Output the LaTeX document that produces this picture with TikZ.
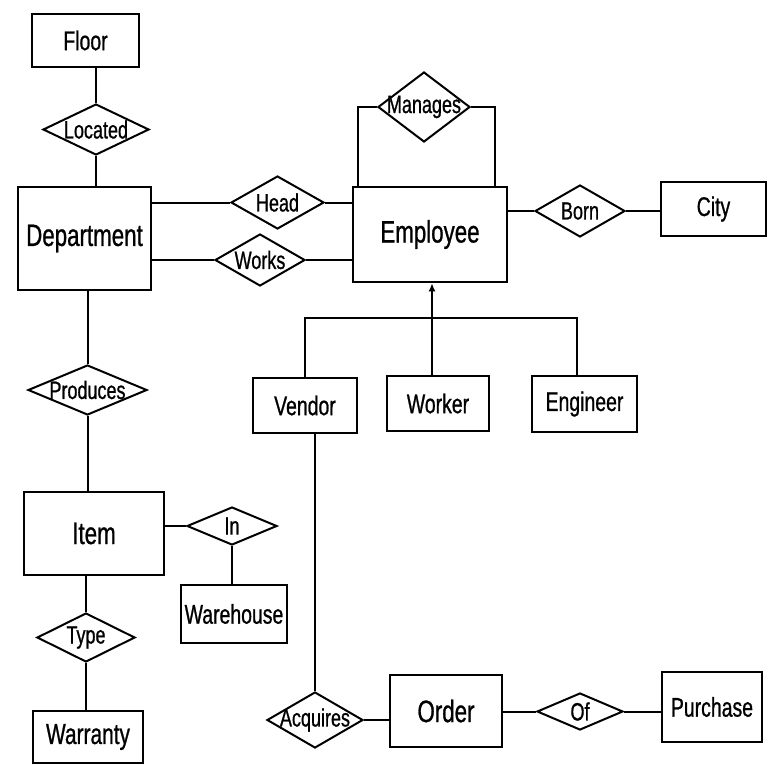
\documentclass[tikz,border=0pt]{standalone}
\usepackage{fontspec}
\setmainfont{Liberation Sans}[FakeStretch=0.72, FakeBold=0.8]
\usetikzlibrary{shapes.geometric,arrows.meta}

\tikzset{
  entity/.style={draw, line width=2.6pt, rectangle, inner sep=0pt,
    font=\fontsize{27}{30}\selectfont},
  bigentity/.style={entity, font=\fontsize{31}{34}\selectfont},
  relation/.style={draw, line width=2pt, diamond, inner sep=0pt,
    label={[font=\fontsize{25}{28}\selectfont, inner sep=0pt]center:#1}},
  link/.style={line width=2pt},
}

\begin{document}
\begin{tikzpicture}[x=1pt,y=-1pt]
\useasboundingbox (0,0) rectangle (780,764);

% entities
\node[entity, minimum width=107, minimum height=53] (floor) at (85.5,40.5) {Floor};
\node[bigentity, minimum width=133, minimum height=103] (dept) at (84.5,238.5) {Department};
\node[bigentity, minimum width=154, minimum height=95] (emp) at (430,234.5) {Employee};
\node[entity, minimum width=105, minimum height=54] (city) at (713.5,209) {City};
\node[entity, minimum width=104, minimum height=55] (vendor) at (305,405.5) {Vendor};
\node[entity, minimum width=102, minimum height=55] (worker) at (438,403.5) {Worker};
\node[entity, minimum width=105, minimum height=56] (engineer) at (584.5,404) {Engineer};
\node[bigentity, minimum width=140, minimum height=83] (item) at (94,533.5) {Item};
\node[entity, minimum width=106, minimum height=58] (warehouse) at (234,614) {Warehouse};
\node[entity, font=\fontsize{29}{32}\selectfont, minimum width=110, minimum height=52] (warranty) at (88,737) {Warranty};
\node[bigentity, minimum width=112, minimum height=72] (order) at (446,711) {Order};
\node[entity, minimum width=100, minimum height=70] (purchase) at (712,707) {Purchase};

% relationships
\node[relation=Located, minimum width=106, minimum height=51] (located) at (96,129.5) {};
\node[relation=Manages, minimum width=92, minimum height=70] (manages) at (424,107) {};
\node[relation=Head, minimum width=93, minimum height=53] (head) at (277.5,202.5) {};
\node[relation=Works, minimum width=90, minimum height=52] (works) at (260,260) {};
\node[relation=Born, minimum width=90, minimum height=52] (born) at (580,211) {};
\node[relation=Produces, minimum width=119, minimum height=50] (produces) at (87.5,390) {};
\node[relation=In, minimum width=90, minimum height=38] (in) at (232,526) {};
\node[relation=Type, minimum width=98, minimum height=49] (type) at (86,637.5) {};
\node[relation=Acquires, minimum width=96, minimum height=56] (acquires) at (315,720) {};
\node[relation=Of, minimum width=86, minimum height=37] (of) at (580,711.5) {};

% connectors
\draw[link] (located.north) -- (located.north |- floor.south);
\draw[link] (located.south) -- (located.south |- dept.north);
\draw[link] (head.west) -- (head.west -| dept.east);
\draw[link] (head.east) -- (head.east -| emp.west);
\draw[link] (works.west) -- (works.west -| dept.east);
\draw[link] (works.east) -- (works.east -| emp.west);
\draw[link] (manages.west) -| ([xshift=-72pt]emp.north);
\draw[link] (manages.east) -| ([xshift=65pt]emp.north);
\draw[link] (born.west) -- (born.west -| emp.east);
\draw[link] (born.east) -- (born.east -| city.west);

% specialisation of Employee
\coordinate (isa) at (432,318);
\draw[link, -{Latex[length=8pt,width=7pt]}] (isa) -- (isa |- emp.south);
\draw[link] (vendor.north) |- (isa);
\draw[link] (isa) -- ([xshift=-8pt]engineer.north |- isa) -- ([xshift=-8pt]engineer.north);
\draw[link] (isa) -- (isa |- worker.north);

\draw[link] (acquires.north) -- (acquires.north |- vendor.south);
\draw[link] (acquires.east) -- (acquires.east -| order.west);
\draw[link] (of.west) -- (of.west -| order.east);
\draw[link] (of.east) -- (of.east -| purchase.west);

\draw[link] (produces.north) -- (produces.north |- dept.south);
\draw[link] (produces.south) -- (produces.south |- item.north);
\draw[link] (in.west) -- (in.west -| item.east);
\draw[link] (in.south) -- (in.south |- warehouse.north);
\draw[link] (type.north) -- (type.north |- item.south);
\draw[link] (type.south) -- (type.south |- warranty.north);
\end{tikzpicture}
\end{document}
